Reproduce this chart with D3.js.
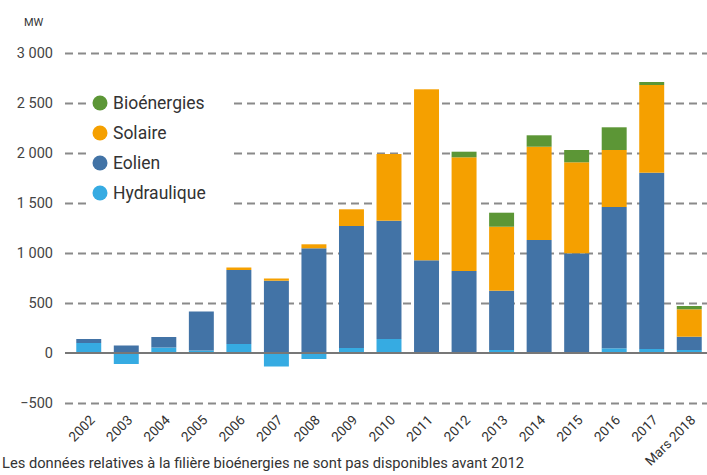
<!DOCTYPE html>
<html>
<head>
<meta charset="utf-8">
<script src="https://cdn.jsdelivr.net/npm/d3@7"></script>
<style>
  body { margin: 0; background: #fff; }
  svg text { font-family: Roboto, "Open Sans", sans-serif; }
</style>
</head>
<body>
<svg width="707" height="475"></svg>
<script>
var years = ['2002','2003','2004','2005','2006','2007','2008','2009','2010','2011','2012','2013','2014','2015','2016','2017','Mars 2018'];
var hydraulique = [100, -110, 55, 25, 90, -135, -60, 50, 140, 10, 5, 30, 10, 10, 47, 40, 30];
var eolien = [40, 75, 105, 390, 740, 723, 1047, 1220, 1183, 917, 815, 593, 1120, 987, 1413, 1763, 133];
var solaire = [0, 0, 0, 0, 25, 22, 40, 167, 667, 1710, 1137, 640, 933, 910, 570, 877, 274];
var bioenergies = [0, 0, 0, 0, 0, 0, 0, 0, 0, 0, 56, 140, 114, 123, 227, 30, 33];
var yTicks = [-500, 0, 500, 1000, 1500, 2000, 2500, 3000];
var seriesNames = ['Hydraulique', 'Eolien', 'Solaire', 'Bioénergies'];
var seriesColors = ['#36abe2', '#4273a6', '#f5a000', '#5c9636'];

var svgWidth = 707;
var svgHeight = 475;

var rows = years.map((y, i) => ({
	year: y,
	Hydraulique: hydraulique[i],
	Eolien: eolien[i],
	Solaire: solaire[i],
	'Bioénergies': bioenergies[i]
}));

var stacked = d3.stack()
	.keys(seriesNames)
	.offset(d3.stackOffsetDiverging)(rows);

var xScale = d3.scaleBand()
	.domain(years)
	.range([70, 708])
	.paddingInner(0.335)
	.paddingOuter(0.167);
var yScale = d3.scaleLinear()
	.domain([-500, 3000])
	.range([403, 53]);
var colorScale = d3.scaleOrdinal()
	.domain(seriesNames)
	.range(seriesColors);

var svg = d3.select('svg');

// y axis + dashed grid
var yAxis = d3.axisLeft(yScale)
	.tickValues(yTicks)
	.tickSize(-(708 - 65))
	.tickFormat(d => d3.format(',')(d).replace(/,/g, ' '));

var gy = svg.append('g')
	.attr('transform', 'translate(65,0)')
	.call(yAxis);
gy.select('.domain').remove();
gy.selectAll('.tick line')
	.attr('stroke', '#8a8a8a')
	.attr('stroke-width', 2)
	.attr('stroke-dasharray', '8,5')
	.attr('opacity', d => d == 0 ? 0 : 1);
gy.selectAll('.tick text')
	.attr('fill', '#444')
	.attr('font-size', 14.5)
	.attr('x', -12);

svg.append('text')
	.attr('x', 24)
	.attr('y', 26)
	.attr('font-size', 11)
	.attr('fill', '#333')
	.text('MW');

// bars
svg.append('g')
	.selectAll('g')
	.data(stacked)
	.enter()
	.append('g')
	.attr('fill', d => colorScale(d.key))
	.selectAll('rect')
	.data(d => d)
	.enter()
	.append('rect')
	.attr('x', d => xScale(d.data.year))
	.attr('width', xScale.bandwidth())
	.attr('y', d => yScale(Math.max(d[0], d[1])))
	.attr('height', d => Math.abs(yScale(d[0]) - yScale(d[1])));

// zero line
svg.append('line')
	.attr('x1', 65)
	.attr('x2', 708)
	.attr('y1', yScale(0))
	.attr('y2', yScale(0))
	.attr('stroke', '#777')
	.attr('stroke-width', 2);

// x axis labels
var xAxis = d3.axisBottom(xScale)
	.tickSize(0)
	.tickSizeOuter(0);
var gx = svg.append('g')
	.attr('transform', 'translate(0,412)')
	.call(xAxis);
gx.select('.domain').remove();
gx.selectAll('.tick text')
	.attr('font-size', 13.5)
	.attr('fill', '#333')
	.attr('text-anchor', 'end')
	.attr('y', 0)
	.attr('dy', 0)
	.attr('transform', 'translate(7,9) rotate(-45)');

// legend
var legend = svg.append('g');
legend.append('rect')
	.attr('x', 86)
	.attr('y', 88)
	.attr('width', 146)
	.attr('height', 120)
	.attr('fill', '#fff');
var legendItems = legend.selectAll('g.item')
	.data(seriesNames.slice().reverse())
	.enter()
	.append('g')
	.attr('class', 'item')
	.attr('transform', (d, i) => `translate(100,${103 + i * 30})`);
legendItems.append('circle')
	.attr('r', 7.5)
	.attr('fill', d => colorScale(d));
legendItems.append('text')
	.attr('x', 13)
	.attr('dy', '0.36em')
	.attr('font-size', 17.5)
	.attr('fill', '#333')
	.text(d => d);

svg.append('text')
	.attr('x', 2)
	.attr('y', 468)
	.attr('font-size', 14)
	.attr('textLength', 522)
	.attr('lengthAdjust', 'spacingAndGlyphs')
	.attr('fill', '#333')
	.text('Les données relatives à la filière bioénergies ne sont pas disponibles avant 2012');
</script>
</body>
</html>
